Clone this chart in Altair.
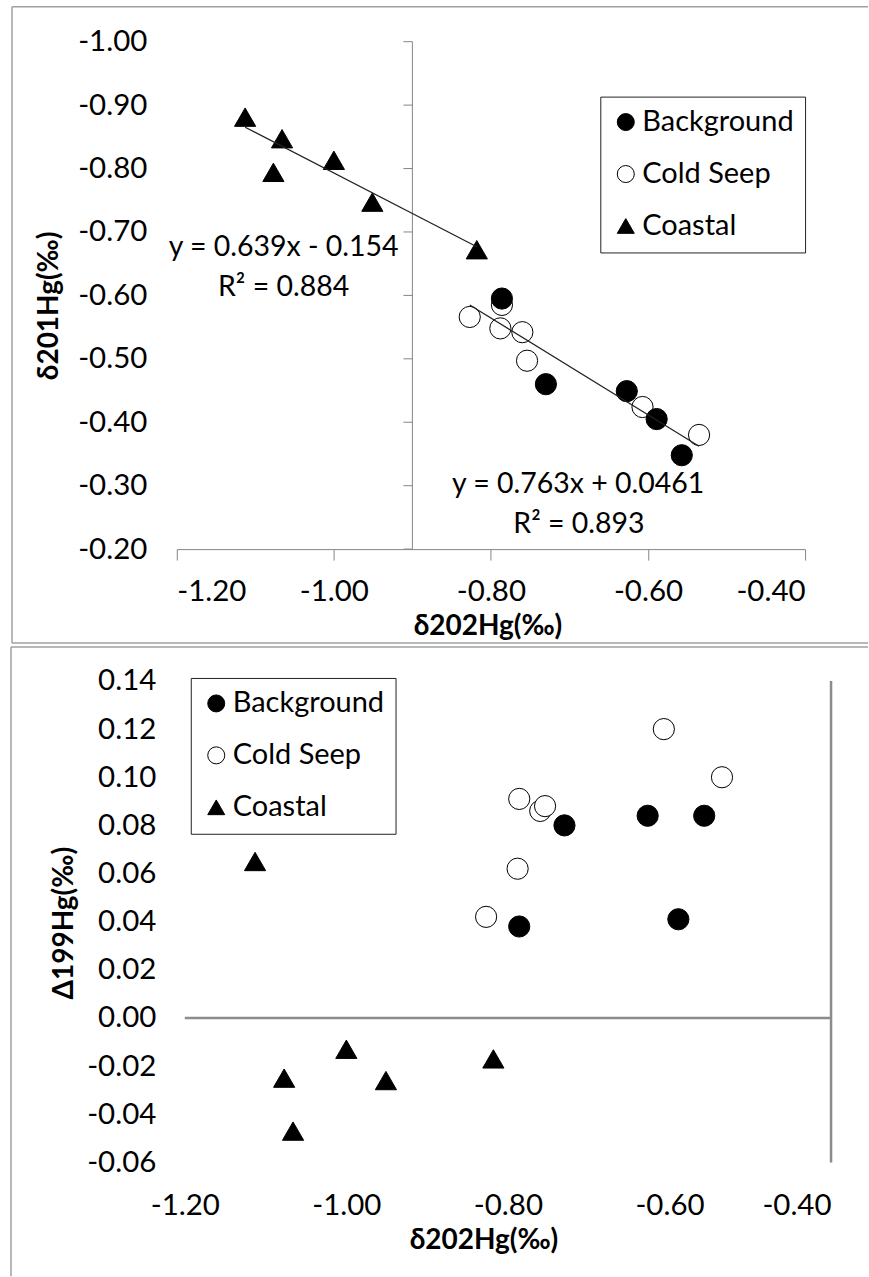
import altair as alt
import pandas as pd

# ---------------- data ----------------
groups = ["Background", "Cold Seep", "Coastal"]

bg_d202 = [-0.786, -0.730, -0.627, -0.589, -0.557]
bg_d201 = [-0.595, -0.460, -0.449, -0.405, -0.348]
bg_D199 = [0.038, 0.080, 0.084, 0.041, 0.084]

cs_d202 = [-0.827, -0.786, -0.788, -0.760, -0.754, -0.607, -0.535]
cs_d201 = [-0.566, -0.585, -0.548, -0.542, -0.497, -0.424, -0.380]
cs_D199 = [0.042, 0.091, 0.062, 0.086, 0.088, 0.120, 0.100]

co_d202 = [-1.113, -1.077, -1.066, -1.000, -0.951, -0.818]
co_d201 = [-0.881, -0.794, -0.847, -0.813, -0.747, -0.672]
co_D199 = [0.065, -0.025, -0.047, -0.013, -0.026, -0.017]

# trend line equations shown on the chart: slope, intercept, R2
fit_coastal = (0.639, -0.154, 0.884)
fit_seep_bg = (0.763, 0.0461, 0.893)

x_ticks = [-1.2, -1.0, -0.8, -0.6, -0.4]
y1_ticks = [-1.0, -0.9, -0.8, -0.7, -0.6, -0.5, -0.4, -0.3, -0.2]
y2_ticks = [0.14, 0.12, 0.10, 0.08, 0.06, 0.04, 0.02, 0.0, -0.02, -0.04, -0.06]

# ---------------- tables ----------------
rows = []
for g, xs, y1, y2 in [("Cold Seep", cs_d202, cs_d201, cs_D199),
                      ("Background", bg_d202, bg_d201, bg_D199),
                      ("Coastal", co_d202, co_d201, co_D199)]:
    for a, b, c in zip(xs, y1, y2):
        rows.append({"group": g, "d202": a, "d201": b, "D199": c})
df = pd.DataFrame(rows)

lines = []
for name, xs, (m, b, r2) in [("coastal", co_d202, fit_coastal),
                             ("seep", bg_d202 + cs_d202, fit_seep_bg)]:
    for xv in (min(xs), max(xs)):
        lines.append({"fit": name, "d202": xv, "d201": m * xv + b})
lines_df = pd.DataFrame(lines)

def eq_text(fit):
    m, b, r2 = fit
    sign = "-" if b < 0 else "+"
    return f"y = {m}x {sign} {abs(b)}", f"R\u00b2 = {r2}"

FONT = "Lato"
AX = "#868686"
MINUS = "replace(format(datum.value, '.2f'), '\u2212', '-')"
LAB = 29.5
TIT = 28

fill_scale = alt.Scale(domain=groups, range=["black", "white", "black"])
stroke_scale = alt.Scale(domain=groups, range=["black", "black", "black"])
shape_scale = alt.Scale(domain=groups, range=["circle", "circle", "triangle-up"])


def legend(lx, ly):
    return alt.Legend(title=None, orient="none", legendX=lx, legendY=ly,
                      direction="vertical", strokeColor="#222", fillColor="white",
                      padding=11, labelFont=FONT, labelFontSize=29, labelColor="black",
                      symbolSize=290, symbolStrokeColor="black", symbolStrokeWidth=1,
                      rowPadding=22, labelOffset=2, cornerRadius=0)


def borders(left, top, right, bottom, bottom_line=True):
    parts = [
        alt.Chart().mark_rule(color="#a0a0a0", strokeWidth=1.5).encode(
            x=alt.value(left), x2=alt.value(right), y=alt.value(top)),
        alt.Chart().mark_rule(color="#a0a0a0", strokeWidth=1.5).encode(
            x=alt.value(left), y=alt.value(top), y2=alt.value(bottom)),
    ]
    if bottom_line:
        parts.append(alt.Chart().mark_rule(color="#a0a0a0", strokeWidth=1.5).encode(
            x=alt.value(left), x2=alt.value(right), y=alt.value(bottom)))
    return parts

# ---------------- top chart ----------------
W1, H1 = 629, 508
xs1 = alt.Scale(domain=[-1.2, -0.4], nice=False, zero=False)
ys1 = alt.Scale(domain=[-1.0, -0.2], nice=False, zero=False, reverse=True)

pts1 = alt.Chart(df).mark_point(filled=True, size=450, strokeWidth=1, opacity=1).encode(
    x=alt.X("d202:Q", scale=xs1,
            axis=alt.Axis(values=x_ticks, labelExpr=MINUS, grid=False,
                          domainColor=AX, domainWidth=1, tickColor=AX, tickSize=11,
                          tickWidth=1, labelFont=FONT, labelFontSize=LAB,
                          labelColor="black", labelPadding=17,
                          title="\u03b4202Hg(\u2030)", titleFont=FONT, titleFontSize=TIT,
                          titleFontWeight="bold", titleColor="black",
                          titleX=311, titleY=85, titleBaseline="alphabetic",
                          titleAlign="center")),
    y=alt.Y("d201:Q", scale=ys1,
            axis=alt.Axis(values=y1_ticks, labelExpr=MINUS, grid=False, domain=False,
                          ticks=False, tickSize=0, labelFont=FONT, labelFontSize=LAB,
                          labelColor="black", labelPadding=30,
                          title="\u03b4201Hg(\u2030)", titleFont=FONT, titleFontSize=TIT,
                          titleFontWeight="bold", titleColor="black",
                          titleX=-127, titleY=264, titleAngle=270,
                          titleBaseline="middle", titleAlign="center")),
    fill=alt.Fill("group:N", scale=fill_scale, legend=legend(424, 55)),
    stroke=alt.Stroke("group:N", scale=stroke_scale, legend=legend(424, 55)),
    shape=alt.Shape("group:N", scale=shape_scale, legend=legend(424, 55)),
)

vaxis1 = alt.Chart().mark_rule(color=AX, strokeWidth=1).encode(
    x=alt.datum(-0.9, scale=xs1), y=alt.datum(-1.0, scale=ys1), y2=alt.datum(-0.2))

vticks1 = alt.Chart(pd.DataFrame({"v": y1_ticks})).mark_rule(
    color=AX, strokeWidth=1, x2Offset=-9).encode(
    x=alt.datum(-0.9, scale=xs1), x2=alt.datum(-0.9), y=alt.Y("v:Q", scale=ys1))

trend1 = alt.Chart(lines_df).mark_line(color="#222", strokeWidth=1.2).encode(
    x=alt.X("d202:Q", scale=xs1), y=alt.Y("d201:Q", scale=ys1), detail="fit:N")

e1a, e1b = eq_text(fit_coastal)
e2a, e2b = eq_text(fit_seep_bg)
txt_style = dict(font=FONT, fontSize=28.5, align="center", baseline="middle", color="black")
texts1 = [
    alt.Chart().mark_text(**txt_style).encode(
        x=alt.datum(-1.064, scale=xs1), y=alt.datum(-0.676, scale=ys1), text=alt.value(e1a)),
    alt.Chart().mark_text(**txt_style).encode(
        x=alt.datum(-1.064, scale=xs1), y=alt.datum(-0.613, scale=ys1), text=alt.value(e1b)),
    alt.Chart().mark_text(**txt_style).encode(
        x=alt.datum(-0.689, scale=xs1), y=alt.datum(-0.302, scale=ys1), text=alt.value(e2a)),
    alt.Chart().mark_text(**txt_style).encode(
        x=alt.datum(-0.688, scale=xs1), y=alt.datum(-0.239, scale=ys1), text=alt.value(e2b)),
]

top = alt.layer(
    *borders(-165, -35, 692, 602),
    vaxis1, vticks1, pts1, trend1, *texts1
).properties(width=W1, height=H1)

# ---------------- bottom chart ----------------
W2, H2 = 655, 482
x_lo = -1.2 - 8 * 0.8 / 647
xs2 = alt.Scale(domain=[x_lo, -0.4], nice=False, zero=False)
ys2 = alt.Scale(domain=[-0.06, 0.14], nice=False, zero=False)

pts2 = alt.Chart(df).mark_point(filled=True, size=450, strokeWidth=1, opacity=1).encode(
    x=alt.X("d202:Q", scale=xs2,
            axis=alt.Axis(values=x_ticks, labelExpr=MINUS, grid=False, domain=False,
                          ticks=False, tickSize=0, labelFont=FONT, labelFontSize=LAB,
                          labelColor="black", labelPadding=29,
                          title="\u03b4202Hg(\u2030)", titleFont=FONT, titleFontSize=TIT,
                          titleFontWeight="bold", titleColor="black",
                          titleX=307, titleY=86, titleBaseline="alphabetic",
                          titleAlign="center")),
    y=alt.Y("D199:Q", scale=ys2,
            axis=alt.Axis(values=y2_ticks, labelExpr=MINUS, grid=False, domain=False,
                          ticks=False, tickSize=0, labelFont=FONT, labelFontSize=LAB,
                          labelColor="black", labelPadding=21,
                          title="\u0394199Hg(\u2030)", titleFont=FONT, titleFontSize=TIT,
                          titleFontWeight="bold", titleColor="black",
                          titleX=-112, titleY=242, titleAngle=270,
                          titleBaseline="middle", titleAlign="center")),
    fill=alt.Fill("group:N", scale=fill_scale, legend=legend(14, -3)),
    stroke=alt.Stroke("group:N", scale=stroke_scale, legend=legend(14, -3)),
    shape=alt.Shape("group:N", scale=shape_scale, legend=legend(14, -3)),
)

zero2 = alt.Chart().mark_rule(color="#8c8c8c", strokeWidth=2.5).encode(
    x=alt.datum(-1.2, scale=xs2), x2=alt.datum(-0.4), y=alt.datum(0, scale=ys2))
vaxis2 = alt.Chart().mark_rule(color="#8c8c8c", strokeWidth=2.5).encode(
    x=alt.datum(-0.4, scale=xs2), y=alt.datum(0.14, scale=ys2), y2=alt.datum(-0.06))

bottom = alt.layer(
    *borders(-166, -34, 692, 596, bottom_line=False),
    zero2, vaxis2, pts2
).properties(width=W2, height=H2)

chart = alt.vconcat(top, bottom, spacing=2).resolve_scale(
    x="independent", y="independent", fill="independent", shape="independent",
    stroke="independent"
).resolve_legend(fill="independent", shape="independent", stroke="independent").properties(
    padding={"left": 10, "top": 5, "right": 0, "bottom": 0},
    background="white",
).configure_view(stroke=None)

chart.save("out.html", embed_options={"renderer": "svg", "actions": False})
